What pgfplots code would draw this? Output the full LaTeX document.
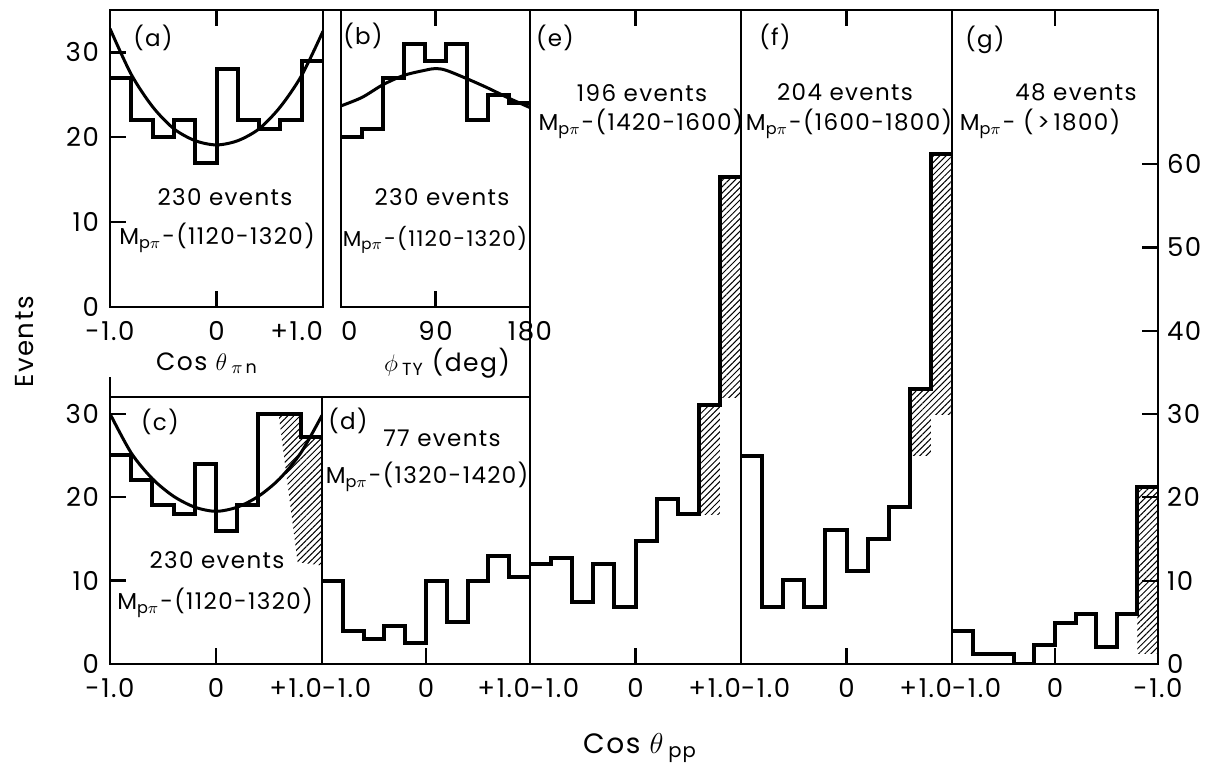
\documentclass[border=0pt]{standalone}
\usepackage{fontspec}
\setmainfont{Poppins}[LetterSpace=6]
\usepackage{pgfplots}
\pgfplotsset{compat=1.18}
\usetikzlibrary{patterns.meta}
\newcommand{\Mp}{M\textsubscript{p$\pi$}\kern0.5pt-}
\newcommand{\evf}{\fontsize{11.5}{13}\selectfont}
\newcommand{\tkf}{\fontsize{13}{13}\selectfont}
\begin{document}
\begin{tikzpicture}
\path[use as bounding box] (0,0) rectangle (607pt,-386pt);
\pgfplotsset{
  panel/.style={
    scale only axis,
    anchor=north west,
    axis line style={line width=1.1pt},
    every tick/.style={line width=1.1pt, black},
    tick align=inside,
    major tick length=8pt,
    ticklabel style={font=\tkf},
    xticklabel style={yshift=-3.5pt},
    yticklabel style={xshift=-2pt},
  },
  hist/.style={const plot, line width=2pt, black, mark=none},
  fit/.style={smooth, line width=1.5pt, black, mark=none},
  hatch/.style={draw=none, pattern={Lines[angle=45,distance=2.2pt,line width=0.5pt]}},
}
% ---------------- (a)
\begin{axis}[panel, at={(55pt,-5pt)}, width=106.5pt, height=148.5pt,
  xmin=-1, xmax=1, ymin=0, ymax=35,
  xtick={-1,0,1}, xticklabels={-1.0,0,{\llap{+1.0}}}, xtick pos=both,
  ytick={0,10,20,30}, yticklabels={0,10,20,30}, ytick pos=left]
\addplot[hist] coordinates {(-1,27)(-0.8,22)(-0.6,20)(-0.4,22)(-0.2,17)(0,28)(0.2,22)(0.4,21)(0.6,22)(0.8,29)(1,29)};
\addplot[fit] coordinates {(-1,32.8)(-0.8,27.4)(-0.6,23.6)(-0.4,21.0)(-0.2,19.6)(0,19.1)(0.2,19.6)(0.4,21.0)(0.6,23.6)(0.8,27.3)(1,32.5)};
\end{axis}
% ---------------- (b)
\begin{axis}[panel, at={(170.5pt,-5pt)}, width=94.5pt, height=148.5pt,
  xmin=0, xmax=180, ymin=0, ymax=35,
  xtick={0,90,180}, xticklabels={{\rlap{0}},90,180}, xtick pos=both,
  ytick=\empty]
\addplot[hist] coordinates {(0,20)(20,21)(40,27)(60,31)(80,29)(100,31)(120,22)(140,25)(160,24)(180,24)};
\addplot[fit] coordinates {(0,23.7)(20,24.7)(40,26.2)(60,27.3)(80,27.9)(90,28.1)(100,27.9)(120,26.9)(140,25.8)(160,24.6)(180,23.5)};
\end{axis}
% ---------------- (c)
\begin{axis}[panel, at={(55pt,-198.5pt)}, width=106pt, height=133.5pt,
  xmin=-1, xmax=1, ymin=0, ymax=32,
  xtick={-1,0,1}, xticklabels={-1.0,0,{\llap{+1.0}}}, xtick pos=bottom,
  ytick={0,10,20,30}, yticklabels={0,10,20,30}, ytick pos=left]
\addplot[hatch] coordinates {(0.59,30)(0.8,30)(0.8,27.2)(1,27.2)(1,11.8)(0.77,12.2)} --cycle;
\addplot[hist] coordinates {(-1,25)(-0.8,22)(-0.6,19)(-0.4,18)(-0.2,24)(0,16)(0.2,19)(0.4,30)(0.6,30)(0.8,27.2)(1,27.2)};
\addplot[fit] coordinates {(-1,30)(-0.8,25.3)(-0.6,22.2)(-0.4,20.1)(-0.2,18.8)(0,18.3)(0.2,18.8)(0.4,20.1)(0.6,22.2)(0.8,25.3)(1,29.8)};
\end{axis}
% ---------------- (d)
\begin{axis}[panel, at={(161pt,-198.5pt)}, width=104pt, height=133.5pt,
  xmin=-1, xmax=1, ymin=0, ymax=32,
  xtick={-1,0,1}, xticklabels={{\rlap{-1.0}},0,{\llap{+1.0}}}, xtick pos=bottom,
  ytick=\empty]
\addplot[hist] coordinates {(-1,10)(-0.8,4)(-0.6,3)(-0.4,4.5)(-0.2,2.5)(0,10)(0.2,5)(0.4,10)(0.6,13)(0.8,10.4)(1,10.4)};
\end{axis}
% ---------------- (e)
\begin{axis}[panel, at={(265pt,-5pt)}, width=105.5pt, height=327pt,
  xmin=-1, xmax=1, ymin=0, ymax=78.5,
  xtick={-1,0,1}, xticklabels={{\rlap{-1.0}},0,{\llap{+1.0}}}, xtick pos=both,
  ytick=\empty]
\addplot[hatch] coordinates {(0.6,18)(0.6,31.1)(0.8,31.1)(0.8,18)} --cycle;
\addplot[hatch] coordinates {(0.8,32)(0.8,58.4)(1,58.4)(1,32)} --cycle;
\addplot[hist] coordinates {(-1,12)(-0.8,12.7)(-0.6,7.4)(-0.4,12)(-0.2,6.8)(0,14.8)(0.2,19.8)(0.4,18)(0.6,31.1)(0.8,58.4)(1,58.4)};
\end{axis}
% ---------------- (f)
\begin{axis}[panel, at={(370.5pt,-5pt)}, width=105.5pt, height=327pt,
  xmin=-1, xmax=1, ymin=0, ymax=78.5,
  xtick={-1,0,1}, xticklabels={{\rlap{-1.0}},0,{\llap{+1.0}}}, xtick pos=both,
  ytick=\empty]
\addplot[hatch] coordinates {(0.6,25)(0.6,33)(0.8,33)(0.8,25)} --cycle;
\addplot[hatch] coordinates {(0.8,30)(0.8,61.2)(1,61.2)(1,30)} --cycle;
\addplot[hist] coordinates {(-1,25)(-0.8,6.9)(-0.6,10.1)(-0.4,6.9)(-0.2,16.1)(0,11.2)(0.2,15)(0.4,18.9)(0.6,33)(0.8,61.2)(1,61.2)};
\end{axis}
% ---------------- (g)
\begin{axis}[panel, at={(476pt,-5pt)}, width=103pt, height=327pt,
  xmin=-1, xmax=1, ymin=0, ymax=78.5,
  xtick={-1,0,1}, xticklabels={{\rlap{-1.0}},0,-1.0}, xtick pos=both,
  ytick={0,10,20,30,40,50,60}, yticklabels={0,10,20,30,40,50,60},
  ytick pos=right, yticklabel pos=right, yticklabel style={xshift=3pt}]
\addplot[hatch] coordinates {(0.8,1.3)(0.8,21.2)(1,21.2)(1,1.3)} --cycle;
\addplot[hist] coordinates {(-1,4)(-0.8,1.2)(-0.6,1.2)(-0.4,0)(-0.2,2.3)(0,4.9)(0.2,6)(0.4,2)(0.6,6)(0.8,21.2)(1,21.2)};
\end{axis}
% frame bits
\draw[line width=1.1pt] (161.5pt,-5pt) -- (170.5pt,-5pt);
\draw[line width=1.1pt] (55pt,-188.5pt) -- (55pt,-198.5pt);
% annotations
\node[font=\evf] at (76.5pt,-19pt) {(a)};
\node[font=\evf] at (112.5pt,-98.5pt) {230 events};
\node[font=\evf] at (108.5pt,-119pt) {\Mp(1120-1320)};
\node[font=\evf] at (181.5pt,-18pt) {(b)};
\node[font=\evf] at (221pt,-98.5pt) {230 events};
\node[font=\fontsize{10.8}{13}\selectfont] at (217.5pt,-120pt) {\Mp(1120-1320)};
\node[font=\evf] at (80pt,-211pt) {(c)};
\node[font=\evf] at (108.5pt,-280pt) {230 events};
\node[font=\evf] at (107.5pt,-301.5pt) {\Mp(1120-1320)};
\node[font=\evf] at (174pt,-210.5pt) {(d)};
\node[font=\evf] at (221pt,-219pt) {77 events};
\node[font=\evf] at (213.5pt,-238.5pt) {\Mp(1320-1420)};
\node[font=\evf] at (277.5pt,-19pt) {(e)};
\node[font=\evf] at (321pt,-46.5pt) {196 events};
\node[font=\evf] at (320.5pt,-62pt) {\Mp(1420-1600)};
\node[font=\evf] at (387.5pt,-18.5pt) {(f)};
\node[font=\evf] at (422.5pt,-46pt) {204 events};
\node[font=\evf] at (424.5pt,-62pt) {\Mp(1600-1800)};
\node[font=\evf] at (492.5pt,-20pt) {(g)};
\node[font=\evf] at (538pt,-46pt) {48 events};
\node[font=\evf] at (520pt,-62pt) {\Mp\ (\,>\,1800)};
\node[font=\fontsize{12.5}{13}\selectfont] at (103.5pt,-181.5pt) {Cos $\theta$\,\textsubscript{$\pi$\,n}};
\node[font=\fontsize{12.5}{13}\selectfont] at (223.5pt,-181.5pt) {$\phi$\,\textsubscript{TY} (deg)};
\node[font=\tkf, rotate=90] at (12.5pt,-171pt) {Events};
\node[font=\fontsize{14}{14}\selectfont] at (320pt,-374pt) {Cos $\theta$\,\textsubscript{pp}};
\end{tikzpicture}
\end{document}
